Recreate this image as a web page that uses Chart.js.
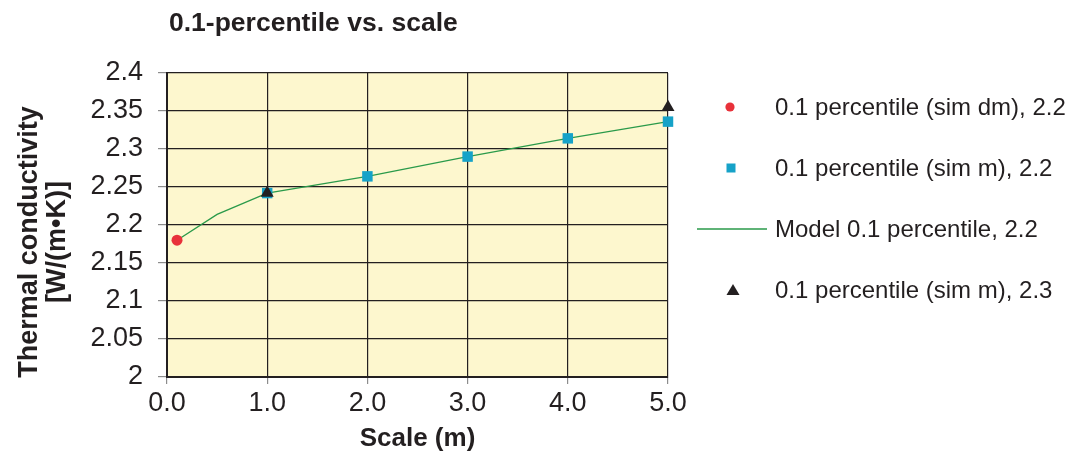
<!DOCTYPE html>
<html>
<head>
<meta charset="utf-8">
<script src="https://cdn.jsdelivr.net/npm/chart.js@4/dist/chart.umd.min.js"></script>
<style>
  html, body { margin: 0; padding: 0; background: #ffffff; }
  #wrap { width: 1070px; height: 454px; position: relative; }
</style>
</head>
<body>
<div id="wrap"><canvas id="c" width="1070" height="454"></canvas></div>
<script>
// Scale (m) and thermal conductivity values, W/(m·K)
const dmScale = [0.1];
const dmValues = [2.18];

const simM22Scale = [1, 2, 3, 4, 5];
const simM22Values = [2.242, 2.264, 2.29, 2.314, 2.336];

const modelScale = [0.1, 0.5, 1, 2, 3, 4, 5];
const modelValues = [2.18, 2.214, 2.242, 2.264, 2.29, 2.314, 2.336];

const simM23Scale = [1, 5];
const simM23Values = [2.242, 2.355];

const xTickLabels = ['0.0', '1.0', '2.0', '3.0', '4.0', '5.0'];
const yTickLabels = ['2', '2.05', '2.1', '2.15', '2.2', '2.25', '2.3', '2.35', '2.4'];

const seriesNames = [
  '0.1 percentile (sim dm), 2.2',
  '0.1 percentile (sim m), 2.2',
  'Model 0.1 percentile, 2.2',
  '0.1 percentile (sim m), 2.3'
];
const chartTitle = '0.1-percentile vs. scale';
const yTitleLines = ['Thermal conductivity', '[W/(m\u2022K)]'];
const xTitle = 'Scale (m)';

const FONT = '"Liberation Sans", Arial, Helvetica, sans-serif';
const INK = '#231F20';
const RED = '#E8313A';
const CYAN = '#16A2C8';
const GREEN = '#2A9A4A';
const PLOT_BG = '#FDF7CE';

const pts = (xs, ys) => xs.map((x, i) => ({ x: x, y: ys[i] }));

// Fill the plot area and draw title, vertical axis title and legend
const decorations = {
  id: 'decorations',
  beforeDraw(chart) {
    const { ctx, chartArea: a } = chart;
    ctx.save();
    ctx.fillStyle = PLOT_BG;
    ctx.fillRect(a.left, a.top, a.right - a.left, a.bottom - a.top);
    ctx.restore();
  },
  afterDraw(chart) {
    const ctx = chart.ctx;
    ctx.save();
    ctx.fillStyle = INK;
    ctx.font = 'bold 26.5px ' + FONT;
    ctx.textAlign = 'left';
    ctx.textBaseline = 'alphabetic';
    ctx.fillText(chartTitle, 169, 31);

    // vertical axis title, two lines
    ctx.save();
    ctx.translate(0, 242);
    ctx.rotate(-Math.PI / 2);
    ctx.font = 'bold 27px ' + FONT;
    ctx.textAlign = 'center';
    ctx.textBaseline = 'alphabetic';
    ctx.fillText(yTitleLines[0], 0, 37);
    ctx.fillText(yTitleLines[1], 0, 65);
    ctx.restore();

    // legend
    const rows = [107, 168, 229, 290];
    ctx.font = '24px ' + FONT;
    ctx.textBaseline = 'middle';
    ctx.textAlign = 'left';
    seriesNames.forEach((name, i) => {
      const y = rows[i];
      if (i === 0) {
        ctx.fillStyle = RED;
        ctx.beginPath();
        ctx.arc(730, y, 4.6, 0, Math.PI * 2);
        ctx.fill();
      } else if (i === 1) {
        ctx.fillStyle = CYAN;
        ctx.fillRect(726.5, y - 4.5, 9, 9);
      } else if (i === 2) {
        ctx.strokeStyle = GREEN;
        ctx.lineWidth = 1.3;
        ctx.beginPath();
        ctx.moveTo(697, y);
        ctx.lineTo(767, y);
        ctx.stroke();
      } else {
        ctx.fillStyle = INK;
        ctx.beginPath();
        ctx.moveTo(733, y - 6);
        ctx.lineTo(739.5, y + 5);
        ctx.lineTo(726.5, y + 5);
        ctx.closePath();
        ctx.fill();
      }
      ctx.fillStyle = INK;
      ctx.fillText(name, 775, y + 1);
    });
    ctx.restore();
  }
};

new Chart(document.getElementById('c'), {
  type: 'scatter',
  data: {
    datasets: [
      {
        label: seriesNames[0],
        data: pts(dmScale, dmValues),
        pointStyle: 'circle',
        pointRadius: 5.5,
        pointHoverRadius: 5.5,
        backgroundColor: RED,
        borderColor: RED,
        borderWidth: 0,
        clip: false,
        order: 2
      },
      {
        label: seriesNames[1],
        data: pts(simM22Scale, simM22Values),
        pointStyle: 'rect',
        pointRadius: 7.4,
        pointHoverRadius: 7.4,
        backgroundColor: CYAN,
        borderColor: CYAN,
        borderWidth: 0,
        clip: false,
        order: 1
      },
      {
        label: seriesNames[2],
        type: 'line',
        data: pts(modelScale, modelValues),
        showLine: true,
        borderColor: GREEN,
        borderWidth: 1.3,
        pointRadius: 0,
        pointHoverRadius: 0,
        fill: false,
        tension: 0,
        clip: false,
        order: 3
      },
      {
        label: seriesNames[3],
        data: pts(simM23Scale, simM23Values),
        pointStyle: 'triangle',
        pointRadius: 7.5,
        pointHoverRadius: 7.5,
        backgroundColor: INK,
        borderColor: INK,
        borderWidth: 0,
        clip: false,
        order: 0
      }
    ]
  },
  options: {
    responsive: false,
    animation: false,
    events: [],
    layout: { padding: { left: 0, right: 402, top: 73, bottom: 0 } },
    plugins: {
      legend: { display: false },
      title: { display: false },
      tooltip: { enabled: false }
    },
    scales: {
      x: {
        type: 'linear',
        min: 0,
        max: 5,
        afterFit(scale) { scale.height = 77; },
        ticks: {
          stepSize: 1,
          color: INK,
          font: { family: FONT, size: 27 },
          padding: 3,
          maxRotation: 0,
          callback: (v, i) => xTickLabels[i]
        },
        grid: { color: INK, lineWidth: 1.2, tickLength: 7, tickColor: '#8c8c8c' },
        border: { color: INK, width: 2 },
        title: {
          display: true,
          text: xTitle,
          color: INK,
          font: { family: FONT, size: 26, weight: 'bold' },
          padding: { top: 0, bottom: 0 }
        }
      },
      y: {
        type: 'linear',
        min: 2,
        max: 2.4,
        afterFit(scale) { scale.width = 167; },
        ticks: {
          stepSize: 0.05,
          color: INK,
          font: { family: FONT, size: 27 },
          padding: 15,
          callback: (v, i) => yTickLabels[i]
        },
        grid: { color: INK, lineWidth: 1.2, tickLength: 9, tickColor: '#8c8c8c' },
        border: { color: INK, width: 2 }
      }
    }
  },
  plugins: [decorations]
});
</script>
</body>
</html>
